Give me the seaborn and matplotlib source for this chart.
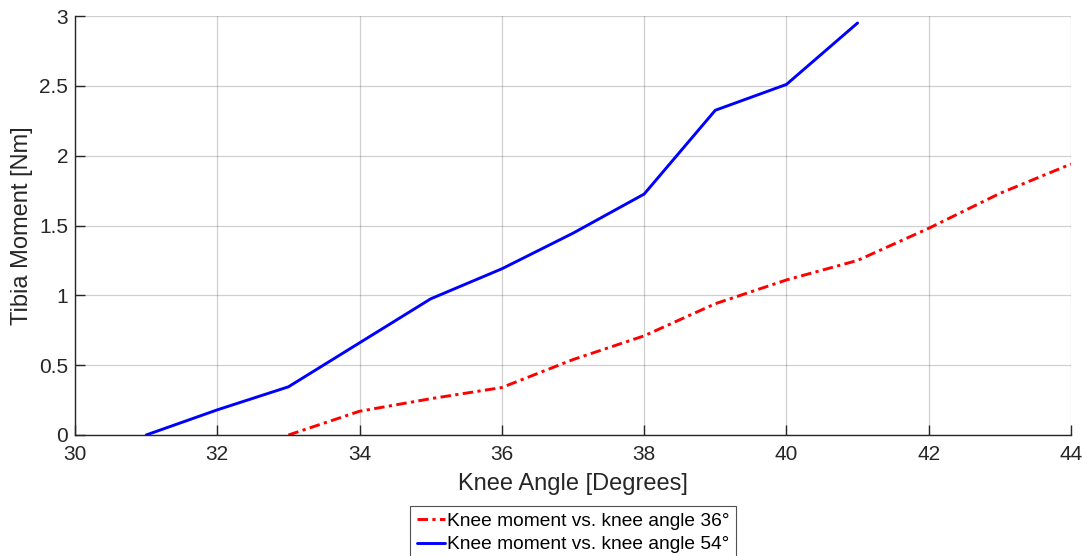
import matplotlib
matplotlib.use("Agg")
import matplotlib.pyplot as plt
import seaborn as sns
import pandas as pd

x_36 = [33, 34, 35, 36, 37, 38, 39, 40, 41, 42, 43, 44]
y_36 = [0.0, 0.17, 0.26, 0.34, 0.54, 0.71, 0.94, 1.11, 1.25, 1.48, 1.73, 1.94]
x_54 = [31, 32, 33, 34, 35, 36, 37, 38, 39, 40, 41]
y_54 = [0.0, 0.18, 0.345, 0.66, 0.975, 1.19, 1.445, 1.725, 2.325, 2.51, 2.95]
labels = ["Knee moment vs. knee angle 36°", "Knee moment vs. knee angle 54°"]
x_ticks = [30, 32, 34, 36, 38, 40, 42, 44]
y_ticks = [0, 0.5, 1, 1.5, 2, 2.5, 3]
y_tick_labels = ["0", "0.5", "1", "1.5", "2", "2.5", "3"]

sns.set_style("white")
plt.rcParams['font.family'] = ['Liberation Sans', 'DejaVu Sans']

fig = plt.figure(figsize=(10.87, 5.56), dpi=100)
ax = fig.add_axes([75/1087, 1 - 435/556, (1071-75)/1087, (435-16)/556])

df36 = pd.DataFrame({"x": x_36, "y": y_36})
df54 = pd.DataFrame({"x": x_54, "y": y_54})
sns.lineplot(data=df36, x="x", y="y", ax=ax, color="#ff0000", linewidth=2.1,
             linestyle="-.", label=labels[0])
sns.lineplot(data=df54, x="x", y="y", ax=ax, color="#0000ff", linewidth=2.1,
             linestyle="-", label=labels[1])
ax.lines[0].set_dashes([3.6, 1.5, 1.1, 1.5])

ax.set_xlim(30, 44)
ax.set_ylim(0, 3)
ax.set_xticks(x_ticks)
ax.set_yticks(y_ticks)
ax.set_yticklabels(y_tick_labels)
ax.grid(True, color="#262626", alpha=0.22, linewidth=0.9)
ax.set_axisbelow(True)

for s in ["top", "right"]:
    ax.spines[s].set_visible(False)
for s in ["left", "bottom"]:
    ax.spines[s].set_color("#262626")
    ax.spines[s].set_linewidth(1.0)

ax.tick_params(axis="both", direction="in", length=7, width=1.0, colors="#262626",
               labelsize=15, labelcolor="#262626", left=True, bottom=True)
ax.tick_params(axis="x", pad=7)
ax.tick_params(axis="y", pad=5)

ax.set_xlabel("Knee Angle [Degrees]", fontsize=17, color="#262626", labelpad=7)
ax.set_ylabel("Tibia Moment [Nm]", fontsize=17, color="#262626", labelpad=4)

leg = ax.legend(loc="upper center", bbox_to_anchor=(0.5, -0.169), ncol=1, fontsize=13.8,
                frameon=True, fancybox=False, handlelength=1.45, handletextpad=0.1,
                borderpad=0.35, labelspacing=0.32, borderaxespad=0)
leg.get_frame().set_edgecolor("#262626")
leg.get_frame().set_linewidth(0.8)
for t in leg.get_texts():
    t.set_color("black")

fig.savefig("out.png", dpi=100)
